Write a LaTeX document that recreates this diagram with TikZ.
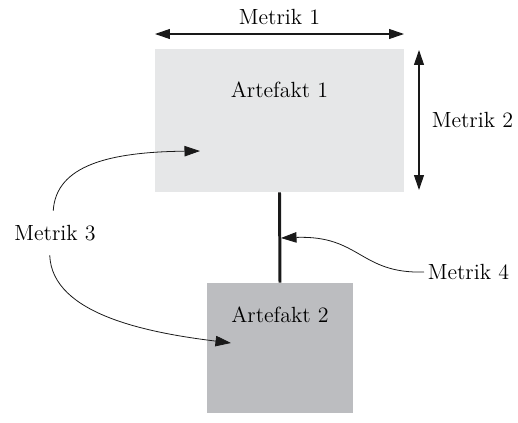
\documentclass[tikz,border=0pt]{standalone}
\usepackage{tikz}
\usetikzlibrary{arrows.meta, positioning}
\definecolor{boxlight}{HTML}{E6E7E8}
\definecolor{boxdark}{HTML}{BCBDC0}
\tikzset{
    artefakt/.style={rectangle, inner sep=0pt, draw=none, font=\fontsize{12.5}{14}\selectfont},
    metrik/.style={inner sep=2pt, font=\fontsize{12.5}{14}\selectfont},
    dimarrow/.style={{Triangle[length=0.3cm,width=0.2cm]}-{Triangle[length=0.3cm,width=0.2cm]}, line width=0.6pt, draw=black!90},
    pointer/.style={-{Triangle[length=0.31cm,width=0.21cm]}, line width=0.45pt, draw=black!90},
    link/.style={line width=1.7pt, draw=black!90}
}
\begin{document}
\begin{tikzpicture}[x=0.02cm, y=-0.02cm]
        \useasboundingbox (0,0) rectangle (518,423);

        % -----------------------------------------------------------------
        % ARTEFAKTE
        % -----------------------------------------------------------------
        \node[artefakt, fill=boxlight, minimum width=4.98cm, minimum height=2.86cm,
              label={[metrik, anchor=center, yshift=-0.82cm]north:Artefakt 1}] (art1) at (279.5, 120.5) {};
        \node[artefakt, fill=boxdark, minimum width=2.92cm, minimum height=2.6cm,
              label={[metrik, anchor=center, yshift=-0.64cm]north:Artefakt 2}] (art2) at (280, 348) {};

        % Verbindung
        \draw[link] (art1.south) -- (art2.north);

        % -----------------------------------------------------------------
        % METRIK 1 und 2
        % -----------------------------------------------------------------
        \coordinate (m1l) at (155, 34);
        \coordinate (m1r) at (404, 34);
        \draw[dimarrow] (m1l) -- (m1r) node[metrik, midway, above=3pt] (m1) {Metrik 1};

        \coordinate (m2t) at (419, 50);
        \coordinate (m2b) at (419, 190);
        \draw[dimarrow] (m2t) -- (m2b);
        \node[metrik, anchor=west] (m2) at (428, 120) {Metrik 2};

        % -----------------------------------------------------------------
        % METRIK 3 und 4
        % -----------------------------------------------------------------
        \node[metrik, inner ysep=8pt] (m3) at (55, 233) {Metrik 3};
        \coordinate (m3a) at (200, 151);
        \coordinate (m3b) at (231, 343);
        \draw[pointer] ([xshift=-1pt]m3.north) .. controls (56, 165) and (110, 152) .. (m3a);
        \draw[pointer] ([xshift=-3pt]m3.south) .. controls (52, 315) and (150, 333) .. (m3b);

        \node[metrik, anchor=west] (m4) at (424, 272) {Metrik 4};
        \coordinate (m4a) at (281, 238);
        \draw[pointer] (m4.west) .. controls (360, 274) and (360, 235) .. (m4a);

    \end{tikzpicture}
\end{document}
